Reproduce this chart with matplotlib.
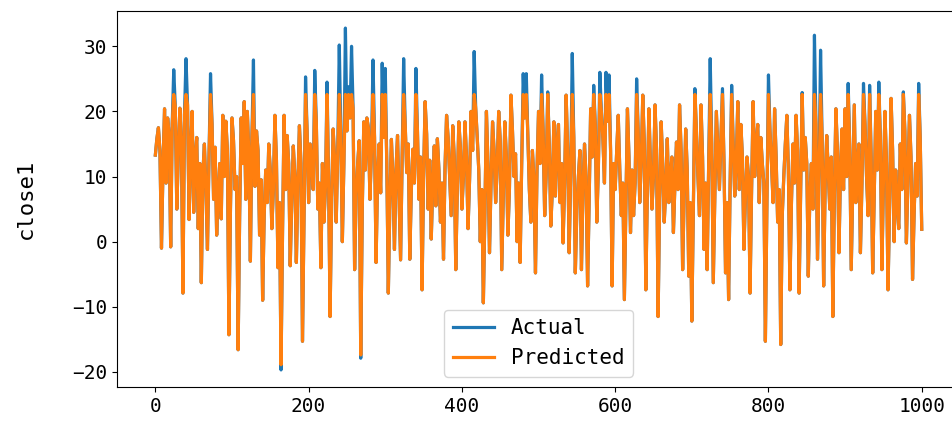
import matplotlib
matplotlib.use("Agg")
import matplotlib.pyplot as plt
import numpy as np

# values, one every X_STEP samples
X_STEP = 2

actual = [
    # 0-99
    13.3, 15.8, 17.5, 14.0, -1.0, 11.5, 20.4, 9.0, 19.0, 16.5,
    -0.8, 18.0, 26.4, 20.8, 5.0, 13.5, 20.5, 15.0, -7.9, 19.5,
    28.1, 21.0, 3.4, 14.0, 20.0, 4.5, 13.0, 16.0, 2.0, 12.0,
    -6.3, 10.5, 15.0, 8.0, -1.2, 13.0, 25.8, 18.0, 6.5, 14.5,
    1.0, 7.0, 12.0, 3.5, 19.4, 10.0, 18.5, 14.0, -14.3, 5.0,
    # 100-199
    19.0, 15.5, 8.0, 10.0, -16.6, 4.0, 19.0, 12.0, 21.5, 6.5,
    20.0, 13.5, -3.0, 16.0, 27.9, 8.5, 17.0, 14.0, 1.0, 9.5,
    -9.0, 4.0, 11.0, 6.0, 15.0, 11.0, 2.0, 8.0, 19.4, 12.5,
    -4.0, 6.0, -19.7, 2.0, 19.4, 8.0, 16.3, 12.0, -3.7, 6.5,
    14.7, 10.0, -3.2, 9.0, 17.8, 12.0, -15.3, 4.0, 25.3, 17.0,
    # 200-299
    6.0, 15.0, 12.0, 8.0, 26.3, 18.5, 5.0, 9.0, -4.0, 12.0,
    3.0, 8.5, 24.5, 10.0, -11.5, 6.0, 17.3, 12.5, 3.0, 14.0,
    30.2, 16.5, 0.0, 12.0, 32.8, 17.0, 23.8, 19.0, 30.0, 20.5,
    -4.3, 7.0, 12.0, 15.5, -17.9, 5.0, 18.4, 11.0, 19.0, 17.5,
    6.5, 14.0, 27.9, 16.0, -3.2, 10.0, 15.0, 7.5, 27.4, 16.0,
    # 300-399
    26.6, 12.0, -7.9, 6.0, 15.7, 9.5, -1.2, 11.0, 16.3, 7.0,
    -2.8, 13.0, 28.1, 18.0, 10.6, 15.0, -2.7, 8.0, 14.2, 9.0,
    26.6, 17.0, 6.5, 13.0, -7.4, 10.0, 21.5, 16.5, 5.0, 12.5,
    0.4, 9.0, 14.7, 5.5, 15.8, 11.0, 3.0, 9.0, -2.7, 11.5,
    19.4, 16.0, 10.0, 4.0, 17.8, 13.0, -4.3, 8.0, 18.4, 14.5,
    # 400-499
    5.0, 10.0, 18.4, 13.0, 2.0, 9.5, 20.0, 14.0, 29.2, 20.5,
    16.0, 11.0, 0.0, 8.0, -9.4, 4.5, 20.0, 12.0, -1.7, 9.0,
    18.4, 14.0, 6.0, 11.0, 20.0, 15.5, -4.3, 7.0, 18.4, 13.0,
    1.0, 8.0, 22.5, 17.0, 10.0, 13.5, 0.0, 9.0, -3.2, 12.0,
    25.8, 19.0, 25.8, 16.5, 8.0, 3.0, 14.0, 9.5, -4.8, 11.0,
    # 500-599
    20.0, 12.0, 25.6, 17.0, 4.0, 10.5, 23.0, 15.0, 2.4, 8.0,
    18.4, 7.0, 14.7, 18.0, 6.0, 12.0, -0.2, 9.0, 22.5, 14.0,
    -1.7, 11.0, 28.9, 16.0, -4.8, 5.0, 10.0, 14.0, -4.3, 8.0,
    15.0, 10.0, -6.8, 6.0, 20.4, 13.0, 24.0, 18.0, 3.0, 11.0,
    26.0, 20.0, 15.8, 9.0, 26.0, 18.5, 25.6, 14.0, -6.8, 12.0,
    # 600-699
    8.0, 14.0, 19.4, 11.0, 4.0, 9.0, -8.9, 6.0, 20.4, 13.0,
    1.4, 11.0, 4.0, 9.0, 25.0, 17.0, 6.0, 12.0, 22.5, 15.0,
    -7.4, 8.0, 20.4, 12.0, 5.0, 10.0, 21.0, 14.0, -11.5, 6.0,
    18.4, 12.0, 3.0, 8.0, 15.8, 6.0, 10.0, 13.0, 1.4, 9.0,
    15.3, 8.0, 21.0, 14.0, -4.3, 7.0, 17.3, 11.0, -5.3, 6.0,
    # 700-799
    -12.2, 5.0, 23.5, 17.0, 10.0, 4.0, 21.0, 13.0, -1.2, 9.0,
    -4.3, 12.0, 28.1, 15.0, -6.3, 7.0, 20.0, 14.0, 8.0, 16.0,
    23.5, 12.0, -4.8, 6.0, -8.9, 9.0, 24.0, 15.0, 7.0, 12.0,
    21.5, 8.0, 18.0, 13.0, -1.2, 7.0, 13.0, 10.0, -7.9, 8.0,
    21.5, 10.0, 15.0, 18.0, 6.0, 16.0, 12.0, 9.0, -15.3, 6.0,
    # 800-899
    25.6, 17.0, 12.0, 6.0, 20.4, 13.0, 3.0, 8.0, -15.8, 4.0,
    10.0, 15.0, 19.4, 11.0, -7.4, 6.0, 15.0, 9.0, 19.4, 14.0,
    -7.9, 8.0, 22.9, 11.0, 16.0, 12.0, -5.3, 7.0, 12.0, 5.0,
    31.7, 18.0, -2.7, 10.0, 29.4, 16.0, -6.8, 9.0, 16.3, 11.0,
    5.0, 13.0, -11.5, 7.0, 20.4, 14.0, -1.7, 11.0, 17.3, 8.0,
    # 900-1000
    20.4, 10.0, 24.3, 15.0, -4.3, 8.0, 21.0, 6.0, 12.0, 15.0,
    -1.7, 9.0, 24.3, 18.0, 10.0, 4.0, 24.0, 13.0, -4.8, 7.0,
    20.0, 11.0, 24.5, 16.0, -4.3, 9.0, 20.0, 12.0, -7.4, 5.0,
    22.0, 14.0, 0.0, 11.0, 6.0, 2.0, 15.0, 8.0, 23.0, 17.0,
    -0.2, 10.0, 19.4, 13.0, -5.8, 4.0, 12.0, 7.0, 24.3, 16.0,
    1.9,
]

# model output: tracks the actuals but saturates near 22.6 on the spikes
predicted = [
    # 0-99
    13.3, 15.8, 17.5, 14.0, -1.0, 11.5, 20.4, 9.0, 19.0, 16.5,
    -0.8, 18.0, 22.6, 20.8, 5.0, 13.5, 20.5, 15.0, -7.9, 19.5,
    22.6, 21.0, 3.4, 14.0, 20.0, 4.5, 13.0, 16.0, 2.0, 12.0,
    -6.3, 10.5, 15.0, 8.0, -1.2, 13.0, 22.6, 18.0, 6.5, 14.5,
    1.0, 7.0, 12.0, 3.5, 19.4, 10.0, 18.5, 14.0, -14.3, 5.0,
    # 100-199
    19.0, 15.5, 8.0, 10.0, -16.6, 4.0, 19.0, 12.0, 21.5, 6.5,
    20.0, 13.5, -3.0, 16.0, 22.6, 8.5, 17.0, 14.0, 1.0, 9.5,
    -9.0, 4.0, 11.0, 6.0, 15.0, 11.0, 2.0, 8.0, 19.4, 12.5,
    -4.0, 6.0, -18.9, 2.0, 19.4, 8.0, 16.3, 12.0, -3.7, 6.5,
    14.7, 10.0, -3.2, 9.0, 17.8, 12.0, -15.3, 4.0, 22.6, 17.0,
    # 200-299
    6.0, 15.0, 12.0, 8.0, 22.6, 18.5, 5.0, 9.0, -4.0, 12.0,
    3.0, 8.5, 22.6, 10.0, -11.5, 6.0, 17.3, 12.5, 3.0, 14.0,
    22.6, 16.5, 0.0, 12.0, 22.6, 17.0, 22.6, 19.0, 22.6, 20.5,
    -4.3, 7.0, 12.0, 15.5, -17.4, 5.0, 18.4, 11.0, 19.0, 17.5,
    6.5, 14.0, 22.6, 16.0, -3.2, 10.0, 15.0, 7.5, 22.6, 16.0,
    # 300-399
    22.6, 12.0, -7.9, 6.0, 15.7, 9.5, -1.2, 11.0, 16.3, 7.0,
    -2.8, 13.0, 22.6, 18.0, 10.6, 15.0, -2.7, 8.0, 14.2, 9.0,
    22.6, 17.0, 6.5, 13.0, -7.4, 10.0, 21.5, 16.5, 5.0, 12.5,
    0.4, 9.0, 14.7, 5.5, 15.8, 11.0, 3.0, 9.0, -2.7, 11.5,
    19.4, 16.0, 10.0, 4.0, 17.8, 13.0, -4.3, 8.0, 18.4, 14.5,
    # 400-499
    5.0, 10.0, 18.4, 13.0, 2.0, 9.5, 20.0, 14.0, 22.6, 20.5,
    16.0, 11.0, 0.0, 8.0, -9.4, 4.5, 20.0, 12.0, -1.7, 9.0,
    18.4, 14.0, 6.0, 11.0, 20.0, 15.5, -4.3, 7.0, 18.4, 13.0,
    1.0, 8.0, 22.5, 17.0, 10.0, 13.5, 0.0, 9.0, -3.2, 12.0,
    22.6, 19.0, 22.6, 16.5, 8.0, 3.0, 14.0, 9.5, -4.8, 11.0,
    # 500-599
    20.0, 12.0, 22.6, 17.0, 4.0, 10.5, 22.6, 15.0, 2.4, 8.0,
    18.4, 7.0, 14.7, 18.0, 6.0, 12.0, -0.2, 9.0, 22.5, 14.0,
    -1.7, 11.0, 22.6, 16.0, -4.8, 5.0, 10.0, 14.0, -4.3, 8.0,
    15.0, 10.0, -6.8, 6.0, 20.4, 13.0, 22.6, 18.0, 3.0, 11.0,
    22.6, 20.0, 15.8, 9.0, 22.6, 18.5, 22.6, 14.0, -6.8, 12.0,
    # 600-699
    8.0, 14.0, 19.4, 11.0, 4.0, 9.0, -8.9, 6.0, 20.4, 13.0,
    1.4, 11.0, 4.0, 9.0, 22.6, 17.0, 6.0, 12.0, 22.5, 15.0,
    -7.4, 8.0, 20.4, 12.0, 5.0, 10.0, 21.0, 14.0, -11.5, 6.0,
    18.4, 12.0, 3.0, 8.0, 15.8, 6.0, 10.0, 13.0, 1.4, 9.0,
    15.3, 8.0, 21.0, 14.0, -4.3, 7.0, 17.3, 11.0, -5.3, 6.0,
    # 700-799
    -12.2, 5.0, 22.6, 17.0, 10.0, 4.0, 21.0, 13.0, -1.2, 9.0,
    -4.3, 12.0, 22.6, 15.0, -6.3, 7.0, 20.0, 14.0, 8.0, 16.0,
    22.6, 12.0, -4.8, 6.0, -8.9, 9.0, 22.6, 15.0, 7.0, 12.0,
    21.5, 8.0, 18.0, 13.0, -1.2, 7.0, 13.0, 10.0, -7.9, 8.0,
    21.5, 10.0, 15.0, 18.0, 6.0, 16.0, 12.0, 9.0, -15.3, 6.0,
    # 800-899
    22.6, 17.0, 12.0, 6.0, 20.4, 13.0, 3.0, 8.0, -15.8, 4.0,
    10.0, 15.0, 19.4, 11.0, -7.4, 6.0, 15.0, 9.0, 19.4, 14.0,
    -7.9, 8.0, 22.6, 11.0, 16.0, 12.0, -5.3, 7.0, 12.0, 5.0,
    22.6, 18.0, -2.7, 10.0, 22.6, 16.0, -6.8, 9.0, 16.3, 11.0,
    5.0, 13.0, -11.5, 7.0, 20.4, 14.0, -1.7, 11.0, 17.3, 8.0,
    # 900-1000
    20.4, 10.0, 22.6, 15.0, -4.3, 8.0, 21.0, 6.0, 12.0, 15.0,
    -1.7, 9.0, 22.6, 18.0, 10.0, 4.0, 22.6, 13.0, -4.8, 7.0,
    20.0, 11.0, 22.6, 16.0, -4.3, 9.0, 20.0, 12.0, -7.4, 5.0,
    22.0, 14.0, 0.0, 11.0, 6.0, 2.0, 15.0, 8.0, 22.6, 17.0,
    -0.2, 10.0, 19.4, 13.0, -5.8, 4.0, 12.0, 7.0, 22.6, 16.0,
    1.9,
]

plt.rcParams["font.family"] = ["DejaVu Sans Mono", "DejaVu Sans"]

x = np.arange(len(actual)) * X_STEP

fig = plt.figure(figsize=(9.53, 4.24), dpi=100)
ax = fig.add_axes([0.1228, 1 - 387 / 424, 0.8846, 376 / 424])

ax.plot(x, actual, color="#1f77b4", lw=2.3, label="Actual")
ax.plot(x, predicted, color="#ff7f0e", lw=2.3, label="Predicted")

ax.set_ylabel("close1", fontsize=16, labelpad=26)
ax.tick_params(labelsize=14)
ax.legend(loc="lower center", fontsize=15)

fig.savefig("out.png", dpi=100)
